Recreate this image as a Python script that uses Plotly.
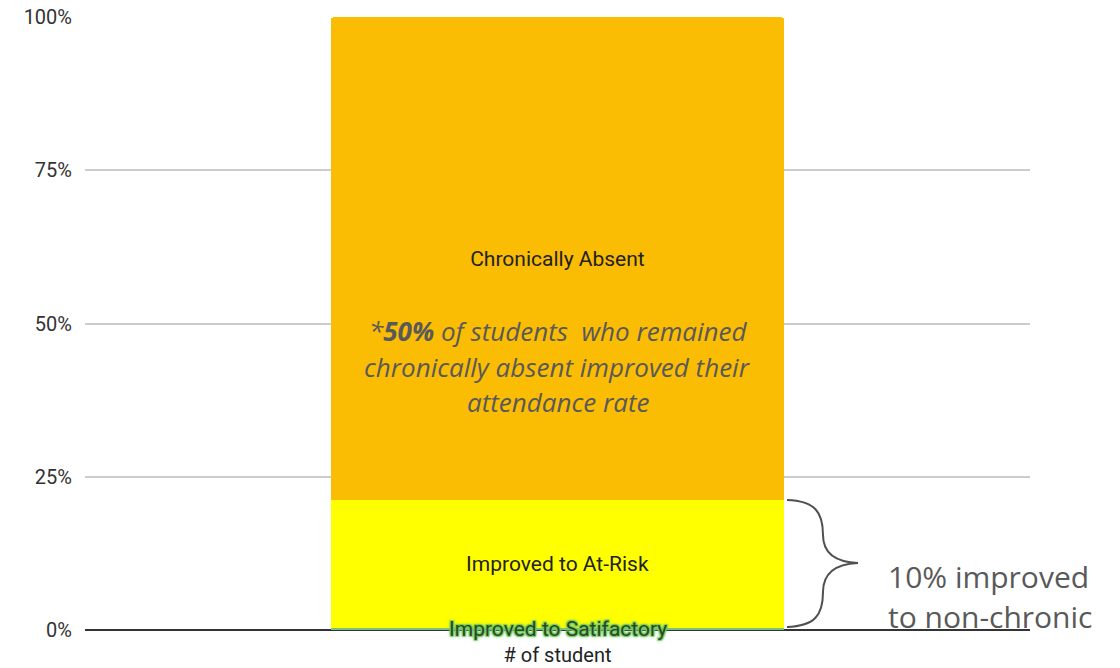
import plotly.graph_objects as go

categories = ["# of student"]
series_names = ["Improved to Satifactory", "Improved to At-Risk", "Chronically Absent"]
series_values = [0.4, 20.8, 78.8]
series_colors = ["#7cc47c", "#ffff00", "#fbbc04"]
y_ticks = [0, 25, 50, 75, 100]
y_tick_labels = ["0%", "25%", "50%", "75%", "100%"]
note_lines = ["<i>*<b>50%</b> of students  who remained</i>",
              "<i>chronically absent improved their</i>",
              "<i>attendance rate</i>"]
side_lines = ["10% improved", "to non-chronic"]

W, H = 1120, 668
L, R, T, B = 85, 90, 17, 38
pw, ph = W - L - R, H - T - B

def px2paper(x):
    return (x - L) / pw

def py2data(y):
    return (H - B - y) / ph * 100

fig = go.Figure()
for i, (name, val, col) in enumerate(zip(series_names, series_values, series_colors)):
    fig.add_trace(go.Bar(
        x=categories, y=[val], name=name, marker_color=col,
        marker_line_width=0,
        text=[name] if i > 0 else None,
        textposition="inside" if i > 0 else "none",
        insidetextanchor="middle",
        textfont=dict(family="Roboto", size=21, color="#222222"),
        hoverinfo="skip",
    ))

glow = "#74c965"
annotations = []
# satisfactory label with green glow
annotations.append(dict(
    x=categories[0], y=series_values[0] / 2, xref="x", yref="y",
    text=series_names[0], showarrow=False,
    font=dict(family="Roboto", size=21, color="#2a4a1e",
              shadow=(f"1px 1px 1px {glow}, -1px -1px 1px {glow}, "
                      f"1px -1px 1px {glow}, -1px 1px 1px {glow}, "
                      f"0px 0px 4px {glow}")),
    yanchor="middle", xanchor="center",
))
note_y_px = [331, 367, 402]
for line, ypx in zip(note_lines, note_y_px):
    annotations.append(dict(
        x=categories[0], y=py2data(ypx), xref="x", yref="y",
        text=line, showarrow=False,
        font=dict(family="Open Sans", size=26, color="#595959"),
        xanchor="center", yanchor="middle",
    ))
side_y_px = [576, 616]
for line, ypx in zip(side_lines, side_y_px):
    annotations.append(dict(
        x=px2paper(886), y=py2data(ypx), xref="paper", yref="y",
        text=line, showarrow=False,
        font=dict(family="Open Sans", size=30, color="#595959"),
        xanchor="left", yanchor="middle",
    ))

# curly brace
def P(x, y):
    return f"{px2paper(x):.5f},{py2data(y):.4f}"

brace = ("M " + P(787, 500) +
         " C " + P(815, 501) + " " + P(823, 512) + " " + P(823, 535) +
         " C " + P(823, 553) + " " + P(835, 562) + " " + P(858, 563) +
         " C " + P(835, 564) + " " + P(823, 573) + " " + P(823, 592) +
         " C " + P(823, 615) + " " + P(815, 626) + " " + P(787, 627))

fig.update_layout(
    barmode="stack",
    bargap=0.52,
    barcornerradius=4,
    width=W, height=H,
    margin=dict(l=L, r=R, t=T, b=B, pad=0),
    plot_bgcolor="white", paper_bgcolor="white",
    showlegend=False,
    annotations=annotations,
    shapes=[dict(type="path", path=brace, xref="paper", yref="y",
                 line=dict(color="#505050", width=2))],
    xaxis=dict(showgrid=False, showline=False, ticks="", automargin=False,
               tickfont=dict(family="Roboto", size=20, color="#222222"),
               ticklabelstandoff=11),
    yaxis=dict(range=[0, 100], tickvals=y_ticks, ticktext=y_tick_labels,
               automargin=False,
               showgrid=True, gridcolor="#cccccc", gridwidth=1.5,
               zeroline=True, zerolinecolor="#333333", zerolinewidth=2,
               showline=False, ticks="",
               tickfont=dict(family="Roboto", size=20, color="#333333"),
               ticklabelstandoff=12),
)

fig.write_html("out.html", config={"displayModeBar": False},
               post_script="document.body.style.margin='0';document.body.style.overflow='hidden';")
